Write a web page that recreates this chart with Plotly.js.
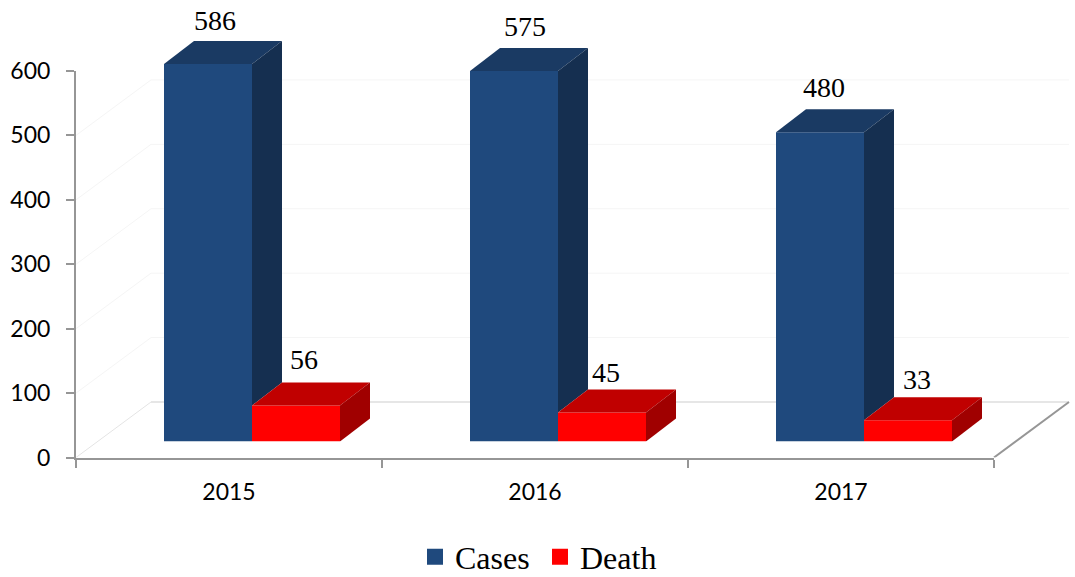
<!DOCTYPE html>
<html>
<head>
<meta charset="utf-8">
<script src="https://cdn.plot.ly/plotly-3.0.1.min.js"></script>
<style>html,body{margin:0;padding:0;background:#fff}#chart{width:1075px;height:577px}</style>
</head>
<body>
<div id="chart"></div>
<script>
const years = ['2015', '2016', '2017'];
const cases = [586, 575, 480];
const death = [56, 45, 33];
const yTicks = [0, 100, 200, 300, 400, 500, 600];

const W = 1075, H = 577;
const pxX = 306, pxY = 386.5 / 600;
const xp = p => p / pxX, yp = p => p / pxY;
const fy = p => 1 - p / H;
const cats = years.map((_, i) => i);

const barW = xp(88), casesOff = xp(-65), deathOff = casesOff + barW;
const dX = xp(30), dY = yp(23);
const floorDX = xp(75), floorDY = yp(55.5);
const BLUE = '#1F497D', BLUE_TOP = '#1A3A63', BLUE_SIDE = '#152F50';
const RED = '#FF0000', RED_TOP = '#C00000', RED_SIDE = '#A00000';

function poly(points, color) {
  return {
    type: 'scatter', mode: 'lines', xaxis: 'x', yaxis: 'y2', fill: 'toself', fillcolor: color,
    x: points.map(p => p[0]), y: points.map(p => p[1]),
    line: {width: 0, color: color}, showlegend: false, hoverinfo: 'skip', cliponaxis: false
  };
}

const faces = [];
cats.forEach((c, i) => {
  const a = c + casesOff, b = a + barW, d = b + barW;
  const v = cases[i], u = death[i];
  faces.push(poly([[a, v], [a + dX, v + dY], [b + dX, v + dY], [b, v]], BLUE_TOP));
  faces.push(poly([[b, v], [b + dX, v + dY], [b + dX, u + dY], [b, u]], BLUE_SIDE));
  faces.push(poly([[b, u], [b + dX, u + dY], [d + dX, u + dY], [d, u]], RED_TOP));
  faces.push(poly([[d, u], [d + dX, u + dY], [d + dX, dY], [d, 0]], RED_SIDE));
});

const barCases = {type: 'bar', name: 'Cases', x: cats, y: cases, xaxis: 'x', yaxis: 'y2',
  width: barW, offset: casesOff, marker: {color: BLUE}, showlegend: false, legendgroup: 'c', cliponaxis: false};
const barDeath = {type: 'bar', name: 'Death', x: cats, y: death, xaxis: 'x', yaxis: 'y2',
  width: barW, offset: deathOff, marker: {color: RED}, showlegend: false, legendgroup: 'd', cliponaxis: false};

const keyCases = {type: 'scatter', mode: 'markers', name: 'Cases', x: [null], y: [null], legendgroup: 'c',
  marker: {symbol: 'square', size: 16, color: BLUE}};
const keyDeath = {type: 'scatter', mode: 'markers', name: 'Death', x: [null], y: [null], legendgroup: 'd',
  marker: {symbol: 'square', size: 16, color: RED}};

const labelFont = {family: '"Liberation Serif", serif', size: 28, color: '#000'};
const casesLabelDX = [7, 11, 4], casesLabelDY = [41, 42, 42];
const deathLabelDX = [8, 4, 9], deathLabelDY = [43, 38, 38];
const labelsCases = {type: 'scatter', mode: 'text', xaxis: 'x', yaxis: 'y2', showlegend: false, hoverinfo: 'skip', cliponaxis: false,
  x: cats.map((c, i) => c + casesOff + barW / 2 + xp(casesLabelDX[i])), y: cases.map((v, i) => v + yp(casesLabelDY[i])),
  text: cases.map(String), textposition: 'middle center', textfont: labelFont};
const labelsDeath = {type: 'scatter', mode: 'text', xaxis: 'x', yaxis: 'y2', showlegend: false, hoverinfo: 'skip', cliponaxis: false,
  x: cats.map((c, i) => c + deathOff + barW / 2 + xp(deathLabelDX[i])), y: death.map((v, i) => v + yp(deathLabelDY[i])),
  text: death.map(String), textposition: 'middle center', textfont: labelFont};

const L = -0.5, R = 2.5;
const px = u => (76 + (u - L) * pxX) / W;
function edge(u0, v0, u1, v1, color, width) {
  return {type: 'line', layer: 'below', xref: 'paper', yref: 'y', x0: px(u0), y0: v0, x1: px(u1), y1: v1, line: {color: color, width: width}};
}
const shapes = [];
yTicks.slice(1).forEach(t => {
  shapes.push(edge(L, t, L + floorDX, t + floorDY, '#F5F5F5', 1));
  shapes.push(edge(L + floorDX, t + floorDY, R + floorDX, t + floorDY, '#F5F5F5', 1));
});
shapes.push(edge(L, 0, L + floorDX, floorDY, '#E4E4E4', 1));
shapes.push(edge(L + floorDX, floorDY, R + floorDX, floorDY, '#E6E6E6', 2));
shapes.push(edge(R, 0, R + floorDX, floorDY, '#969696', 2));

const tickFont = {family: 'Lato, sans-serif', size: 23, color: '#000'};
const layout = {
  width: W, height: H, margin: {l: 0, r: 0, t: 0, b: 0, autoexpand: false},
  paper_bgcolor: '#fff', plot_bgcolor: 'rgba(0,0,0,0)',
  barmode: 'overlay', showlegend: true, hovermode: 'closest',
  xaxis: {
    domain: [76 / W, 994 / W], range: [L, R], anchor: 'y', showgrid: false, zeroline: false,
    showline: true, linecolor: '#969696', linewidth: 2,
    tickmode: 'array', tickvals: cats, ticktext: years, ticks: '', ticklen: 0, tickfont: tickFont, ticklabelstandoff: 13,
    minor: {tickmode: 'array', tickvals: [-0.5, 0.5, 1.5, 2.5], ticks: 'outside', ticklen: 8, tickwidth: 2, tickcolor: '#969696', showgrid: false}
  },
  yaxis: {
    domain: [fy(457.5), fy(71)], range: [0, 600], anchor: 'x', showgrid: false, zeroline: false,
    showline: true, linecolor: '#969696', linewidth: 2,
    tickmode: 'array', tickvals: yTicks, ticks: 'outside', ticklen: 8, tickwidth: 2, tickcolor: '#969696', tickfont: tickFont, ticklabelstandoff: 11
  },
  yaxis2: {domain: [fy(441.5), 1], range: [0, yp(441.5)], anchor: 'x', visible: false},
  legend: {
    orientation: 'h', x: 540 / W, xanchor: 'center', y: fy(557), yanchor: 'middle',
    font: {family: '"Liberation Serif", serif', size: 32, color: '#000'},
    itemwidth: 30, entrywidth: 80, bgcolor: 'rgba(0,0,0,0)', itemclick: false, itemdoubleclick: false
  },
  shapes: shapes
};

Plotly.newPlot('chart', [barCases, barDeath, ...faces, labelsCases, labelsDeath, keyCases, keyDeath], layout,
  {displayModeBar: false, responsive: false});
</script>
</body>
</html>
